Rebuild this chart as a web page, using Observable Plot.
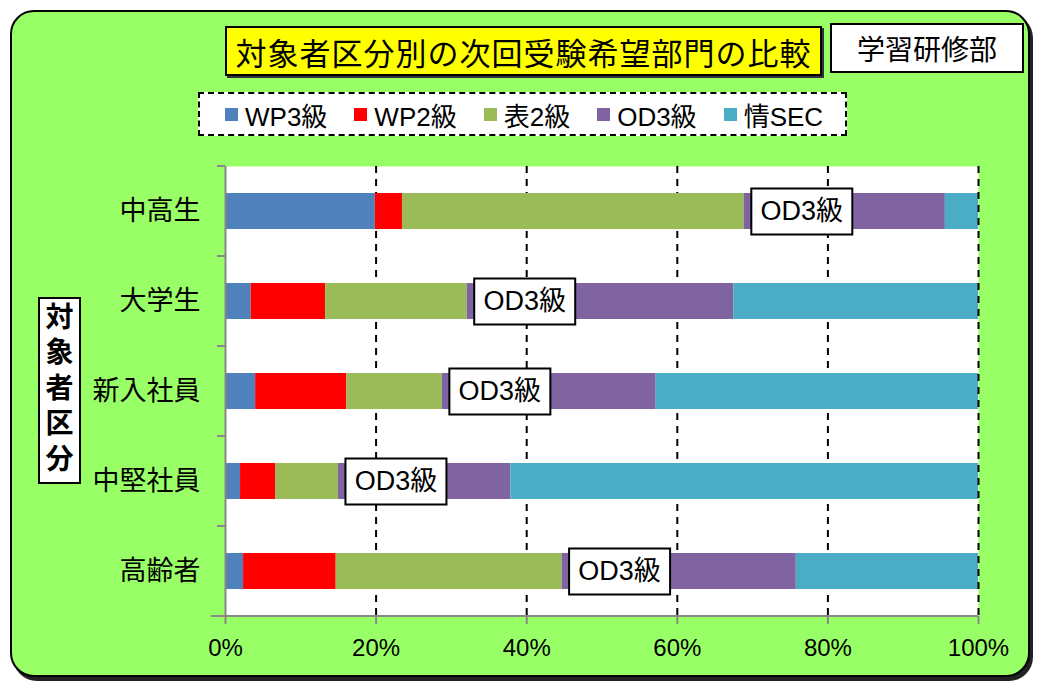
<!DOCTYPE html>
<html>
<head>
<meta charset="utf-8">
<script src="https://cdn.jsdelivr.net/npm/d3@7"></script>
<script src="https://cdn.jsdelivr.net/npm/@observablehq/plot@0.6"></script>
<style>
  html, body { margin: 0; padding: 0; background: #fff; }
  body { width: 1037px; height: 684px; position: relative; overflow: hidden;
         font-family: "Liberation Sans", "Noto Sans CJK JP", sans-serif; color: #000; }
  #frame { position: absolute; left: 10px; top: 10px; width: 1020px; height: 667px; box-sizing: border-box;
           background: #99FF66; border: 2px solid #000; border-radius: 24px; box-shadow: 3px 4px 0 #222; }
  #title { position: absolute; left: 225px; top: 26px; width: 597px; height: 50px; box-sizing: border-box;
           background: #FFFF00; border: 2px solid #000; box-shadow: 2px 2px 0 #333;
           font-family: "Noto Sans CJK JP", sans-serif; font-size: 31px; letter-spacing: 1px;
           display: flex; align-items: center; justify-content: center; white-space: nowrap; }
  #dept { position: absolute; left: 830px; top: 23px; width: 194px; height: 50px; box-sizing: border-box;
          background: #fff; border: 2px solid #000;
          font-family: "Noto Sans CJK JP", sans-serif; font-size: 28px;
          display: flex; align-items: center; justify-content: center; white-space: nowrap; }
  #legend { position: absolute; left: 198px; top: 92px; width: 649px; height: 44px; box-sizing: border-box;
            background: #fff; border: 2px dashed #000; display: flex; align-items: center;
            padding-left: 25px; gap: 27px; font-size: 26px; white-space: nowrap; }
  .item { display: flex; align-items: center; }
  .sw { width: 13px; height: 13px; margin-right: 7px; display: inline-block; }
  #ytitle { position: absolute; left: 38px; top: 297px; width: 43px; height: 187px; box-sizing: border-box;
            background: #fff; border: 2px solid #000;
            font-family: "Noto Sans CJK JP", sans-serif; font-weight: bold; font-size: 28px;
            display: flex; align-items: center; justify-content: center; }
  #ytitle span { writing-mode: vertical-rl; letter-spacing: 7.5px; line-height: 1; }
  #chart { position: absolute; left: 0; top: 150px; }
</style>
</head>
<body>
<div id="frame"></div>
<div id="title">対象者区分別の次回受験希望部門の比較</div>
<div id="dept">学習研修部</div>
<div id="legend"></div>
<div id="ytitle"><span>対象者区分</span></div>
<div id="chart"></div>
<script>
const categories = ["中高生", "大学生", "新入社員", "中堅社員", "高齢者"];
const series = ["WP3級", "WP2級", "表2級", "OD3級", "情SEC"];
const colors = ["#4F81BD", "#FF0000", "#9BBB59", "#8064A2", "#4BACC6"];
const wp3 = [19.9, 3.4, 4.0, 2.0, 2.4];
const wp2 = [3.6, 9.9, 12.1, 4.7, 12.3];
const hyo2 = [45.4, 18.8, 12.7, 8.3, 30.0];
const od3 = [26.7, 35.4, 28.4, 22.9, 31.1];
const sec = [4.4, 32.5, 42.8, 62.1, 24.2];
const xTicks = [0, 20, 40, 60, 80, 100];
const gridTicks = [20, 40, 60, 80];
const labelText = "OD3級";

const seriesValues = [wp3, wp2, hyo2, od3, sec];
const rows = categories.flatMap((c, i) => series.map((s, j) => ({cat: c, series: s, value: seriesValues[j][i]})));
const labels = categories.map((c, i) => ({cat: c, start: wp3[i] + wp2[i] + hyo2[i], text: labelText}));

// legend
const legend = document.getElementById("legend");
series.forEach((s, j) => {
  const it = document.createElement("div");
  it.className = "item";
  it.innerHTML = `<span class="sw" style="background:${colors[j]}"></span><span>${s}</span>`;
  legend.appendChild(it);
});

const boxSymbol = {
  draw(context) { context.rect(7, -23, 101, 46); }
};

const W = 1037, H = 534, ML = 225, MR = 59, MT = 16, MB = 68;
const dash = {stroke: "#000", strokeWidth: 2, strokeDasharray: "7,6"};

const chart = Plot.plot({
  width: W, height: H,
  marginLeft: ML, marginRight: MR, marginTop: MT, marginBottom: MB,
  style: {background: "transparent", color: "#000", fontFamily: "'Liberation Sans','Noto Sans CJK JP',sans-serif", overflow: "visible"},
  x: {domain: [0, 100]},
  y: {domain: categories, paddingInner: 0.6, paddingOuter: 0.3},
  color: {domain: series, range: colors},
  marks: [
    Plot.frame({fill: "#fff", stroke: null}),
    Plot.ruleX(gridTicks, dash),
    Plot.barX(rows, {y: "cat", x: "value", fill: "series"}),
    Plot.ruleX([100], dash),
    Plot.ruleX([0], {stroke: "#888", strokeWidth: 2}),
    Plot.dot(labels, {x: "start", y: "cat", symbol: boxSymbol, r: 1, fill: "#fff", stroke: "#000", strokeWidth: 2}),
    Plot.text(labels, {x: "start", y: "cat", text: "text", dx: 57.5, fontSize: 27, fill: "#000"}),
    Plot.axisX({ticks: xTicks, tickFormat: d => d + "%", tickSize: 8, tickPadding: 14, stroke: "#888", strokeWidth: 2,
                fontSize: 24, fontFamily: "'Liberation Sans Narrow','Liberation Sans',sans-serif", label: null}),
    Plot.axisY({tickSize: 0, tickPadding: 25, fontSize: 27, fontFamily: "'Noto Sans CJK JP',sans-serif", label: null})
  ]
});

// band-boundary ticks and bottom axis line, from the plot's own y scale
const y = chart.scale("y");
const svg = d3.select(chart.tagName === "svg" ? chart : chart.querySelector("svg"));
const top0 = y.apply(categories[0]) - y.step * 0.3;
const g = svg.append("g").attr("stroke", "#888").attr("stroke-width", 2);
d3.range(categories.length + 1).forEach(k => {
  const yy = top0 + k * y.step;
  g.append("line").attr("x1", ML - 8).attr("x2", ML).attr("y1", yy).attr("y2", yy);
});
const bottom = top0 + categories.length * y.step;
g.append("line").attr("x1", ML - 14).attr("x2", W - MR).attr("y1", bottom).attr("y2", bottom);

document.getElementById("chart").appendChild(chart);
</script>
</body>
</html>
